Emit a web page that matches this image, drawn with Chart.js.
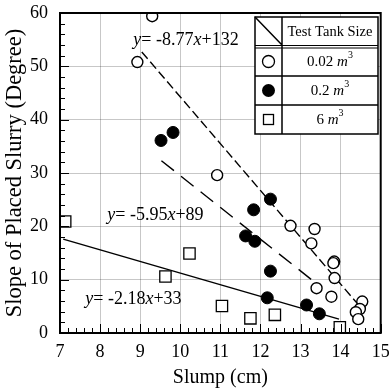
<!DOCTYPE html>
<html>
<head>
<meta charset="utf-8">
<script src="https://cdn.jsdelivr.net/npm/chart.js@4.4.1/dist/chart.umd.min.js"></script>
<style>
  html, body { margin: 0; padding: 0; background: #fff; }
  #wrap { width: 390px; height: 392px; }
</style>
</head>
<body>
<div id="wrap"><canvas id="chart" width="390" height="392"></canvas></div>
<script>
// data
const smallX = [9.3, 8.93, 10.92, 12.75, 13.35, 13.27, 13.84, 13.82, 13.85, 13.4, 13.77, 14.54, 14.48, 14.38, 14.44];
const smallY = [59.4, 50.8, 29.6, 20.1, 19.5, 16.8, 13.4, 13.1, 10.3, 8.4, 6.8, 5.9, 4.5, 3.9, 2.6];

const midX = [9.52, 9.82, 12.25, 11.83, 11.63, 11.86, 12.25, 12.17, 13.15, 13.47];
const midY = [36.1, 37.6, 25.1, 23.1, 18.2, 17.2, 11.6, 6.6, 5.25, 3.6];

const bigX = [7.13, 9.63, 10.23, 11.04, 11.75, 12.36, 13.98];
const bigY = [20.9, 10.6, 14.9, 5.06, 2.75, 3.4, 1.06];

// fit line ends (x, y) as drawn
const fitSmallX = [9.04, 14.42];
const fitSmallY = [52.7, 5.5];
const fitMidX = [9.53, 13.46];
const fitMidY = [32.3, 8.9];
const fitBigX = [7.08, 13.96];
const fitBigY = [17.6, 2.6];

const fitLabels = ['-8.77', '-5.95', '-2.18'];
const fitConsts = ['+132', '+89', '+33'];
const tankSizes = ['0.02', '0.2', '6'];

const xTicks = [7, 8, 9, 10, 11, 12, 13, 14, 15];
const yTicks = [0, 10, 20, 30, 40, 50, 60];

const serif = "'Liberation Serif', 'DejaVu Serif', serif";

const pts = (xs, ys) => xs.map((x, i) => ({ x, y: ys[i] }));

// where the equations sit (data units, left edge / middle)
const labelSpots = [{ x: 8.83, y: 54.9 }, { x: 8.18, y: 22.1 }, { x: 7.63, y: 6.4 }];

function drawRich(ctx, parts, x, y, size) {
  let cx = x;
  parts.forEach(p => {
    ctx.font = (p.it ? 'italic ' : '') + (p.size || size) + 'px ' + serif;
    ctx.fillText(p.t, cx, y + (p.dy || 0));
    cx += ctx.measureText(p.t).width;
  });
  return cx - x;
}

function richWidth(ctx, parts, size) {
  let w = 0;
  parts.forEach(p => {
    ctx.font = (p.it ? 'italic ' : '') + (p.size || size) + 'px ' + serif;
    w += ctx.measureText(p.t).width;
  });
  return w;
}

function noPad(s) {
  s.paddingTop = 0; s.paddingBottom = 0; s.paddingLeft = 0; s.paddingRight = 0;
}

const extras = {
  id: 'extras',
  afterDraw(chart) {
    const ctx = chart.ctx;
    const a = chart.chartArea;
    const xs = chart.scales.x, ys = chart.scales.y;
    ctx.save();

    // frame
    ctx.strokeStyle = '#000';
    ctx.lineWidth = 2;
    ctx.strokeRect(a.left, a.top, a.right - a.left, a.bottom - a.top);

    // inward minor ticks
    ctx.lineWidth = 1;
    for (let v = 7; v <= 15.001; v += 0.2) {
      const px = Math.round(xs.getPixelForValue(v)) + 0.5;
      const major = Math.abs(v - Math.round(v)) < 0.01;
      ctx.beginPath();
      ctx.moveTo(px, a.bottom);
      ctx.lineTo(px, a.bottom - (major ? 9 : 5));
      ctx.stroke();
    }
    for (let v = 0; v <= 60.001; v += 2) {
      const py = Math.round(ys.getPixelForValue(v)) + 0.5;
      const major = v % 10 === 0;
      ctx.beginPath();
      ctx.moveTo(a.left, py);
      ctx.lineTo(a.left + (major ? 9 : 5), py);
      ctx.stroke();
    }

    // equations
    ctx.fillStyle = '#000';
    ctx.textBaseline = 'middle';
    ctx.textAlign = 'left';
    labelSpots.forEach((s, i) => {
      drawRich(ctx, [
        { t: 'y', it: true }, { t: '= ' + fitLabels[i] }, { t: 'x', it: true }, { t: fitConsts[i] }
      ], xs.getPixelForValue(s.x), ys.getPixelForValue(s.y), 18);
    });

    // legend table
    const L = 255, R = 378, C = 282, T = 17;
    const rows = [47, 76, 105, 134];
    ctx.fillStyle = '#fff';
    ctx.fillRect(L, T, R - L, rows[3] - T);
    ctx.strokeStyle = '#000';
    ctx.lineWidth = 1.5;
    ctx.strokeRect(L, T, R - L, rows[3] - T);
    ctx.beginPath();
    ctx.moveTo(C, T); ctx.lineTo(C, rows[3]);
    ctx.moveTo(L, rows[1]); ctx.lineTo(R, rows[1]);
    ctx.moveTo(L, rows[2]); ctx.lineTo(R, rows[2]);
    ctx.moveTo(L, T); ctx.lineTo(C, rows[0] - 2);
    ctx.stroke();
    ctx.lineWidth = 1;
    ctx.beginPath();
    ctx.moveTo(L, rows[0] - 1.5); ctx.lineTo(R, rows[0] - 1.5);
    ctx.moveTo(L, rows[0] + 1); ctx.lineTo(R, rows[0] + 1);
    ctx.stroke();

    ctx.fillStyle = '#000';
    ctx.textAlign = 'center';
    ctx.font = '14.5px ' + serif;
    ctx.fillText('Test Tank Size', (C + R) / 2, (T + rows[0]) / 2);
    ctx.textAlign = 'left';
    tankSizes.forEach((s, i) => {
      const parts = [{ t: s + ' ' }, { t: 'm', it: true }, { t: '3', size: 10, dy: -7 }];
      const w = richWidth(ctx, parts, 15);
      const cy = (rows[i] + rows[i + 1]) / 2 + 1;
      drawRich(ctx, parts, (C + R) / 2 - w / 2, cy, 15);
    });

    // legend markers
    const mx = (L + C) / 2;
    ctx.lineWidth = 1.3;
    ctx.beginPath();
    ctx.arc(mx, (rows[0] + rows[1]) / 2, 6, 0, Math.PI * 2);
    ctx.fillStyle = '#fff'; ctx.fill(); ctx.stroke();
    ctx.beginPath();
    ctx.arc(mx, (rows[1] + rows[2]) / 2, 6.5, 0, Math.PI * 2);
    ctx.fillStyle = '#000'; ctx.fill();
    ctx.strokeRect(mx - 5, (rows[2] + rows[3]) / 2 - 5, 10, 10);

    ctx.restore();
  }
};

new Chart(document.getElementById('chart'), {
  type: 'scatter',
  data: {
    datasets: [
      { label: '0.02', data: pts(smallX, smallY), pointStyle: 'circle', pointRadius: 5.5,
        backgroundColor: '#fff', borderColor: '#000', borderWidth: 1.4 },
      { label: '0.2', data: pts(midX, midY), pointStyle: 'circle', pointRadius: 6,
        backgroundColor: '#000', borderColor: '#000', borderWidth: 1 },
      { label: '6', data: pts(bigX, bigY), pointStyle: 'rect', pointRadius: 8,
        backgroundColor: '#fff', borderColor: '#000', borderWidth: 1.3 },
      { type: 'line', data: pts(fitSmallX, fitSmallY), borderColor: '#000', borderWidth: 1.4,
        borderDash: [9, 4], pointRadius: 0, fill: false },
      { type: 'line', data: pts(fitMidX, fitMidY), borderColor: '#000', borderWidth: 1.4,
        borderDash: [16, 9], pointRadius: 0, fill: false },
      { type: 'line', data: pts(fitBigX, fitBigY), borderColor: '#000', borderWidth: 1.5,
        pointRadius: 0, fill: false }
    ]
  },
  options: {
    responsive: false,
    animation: false,
    layout: { padding: { top: 13, right: 9, left: 0, bottom: 0 } },
    plugins: { legend: { display: false }, tooltip: { enabled: false } },
    scales: {
      x: {
        type: 'linear', min: 7, max: 15,
        afterFit: s => { s.height = 59; noPad(s); },
        afterBuildTicks: s => { s.ticks = xTicks.map(v => ({ value: v })); },
        ticks: { color: '#000', font: { family: serif, size: 18 }, padding: 8, maxRotation: 0 },
        grid: { color: 'rgba(0,0,0,0.22)', drawTicks: false },
        border: { color: '#000', width: 2 },
        title: { display: true, text: 'Slump (cm)', color: '#000',
          font: { family: serif, size: 20 }, padding: { top: 0, bottom: 2 } }
      },
      y: {
        min: 0, max: 60,
        afterFit: s => { s.width = 60; noPad(s); },
        afterBuildTicks: s => { s.ticks = yTicks.map(v => ({ value: v })); },
        ticks: { color: '#000', font: { family: serif, size: 18 }, padding: 12 },
        grid: { color: 'rgba(0,0,0,0.22)', drawTicks: false },
        border: { color: '#000', width: 2 },
        title: { display: true, text: 'Slope of Placed Slurry (Degree)', color: '#000',
          font: { family: serif, size: 22.5 }, padding: { top: 2, bottom: 0 } }
      }
    }
  },
  plugins: [extras]
});
</script>
</body>
</html>
